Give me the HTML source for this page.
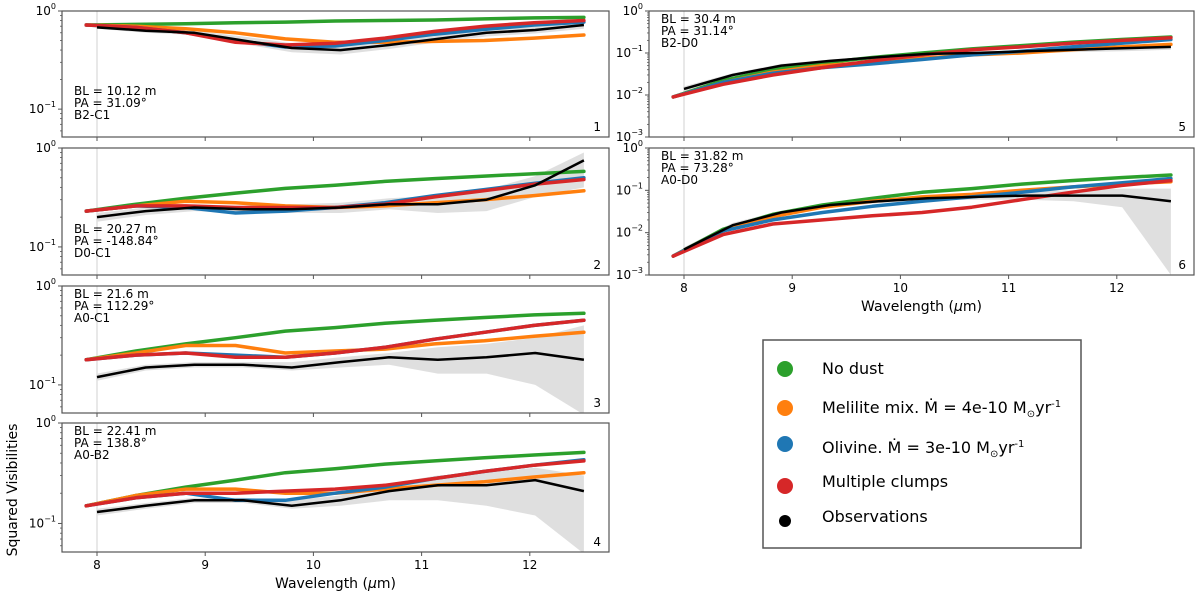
<!DOCTYPE html>
<html><head><meta charset="utf-8"><style>
html,body{margin:0;padding:0;background:#fff}
svg{display:block;font-family:"DejaVu Sans","Liberation Sans",sans-serif}
</style></head><body>
<svg id="fig" width="1200" height="594" viewBox="0 0 1200 594" xmlns="http://www.w3.org/2000/svg">
<g id="layer"></g>
<g>
<rect x="763" y="340" width="318" height="208" fill="#fff" stroke="#555" stroke-width="1.5"/>
<g><circle cx="785" cy="369" r="8" fill="#2ca02c"/><text x="822" y="374" font-size="16">No dust</text></g>
<g><circle cx="785" cy="408" r="8" fill="#ff7f0e"/><text x="822" y="413" font-size="16">Melilite mix. Ṁ = 4e-10 M<tspan font-size="10" dy="4">⊙</tspan><tspan dy="-4">yr</tspan><tspan font-size="10" dy="-6">-1</tspan></text></g>
<g><circle cx="785" cy="444" r="8" fill="#1f77b4"/><text x="822" y="453" font-size="16">Olivine. Ṁ = 3e-10 M<tspan font-size="10" dy="4">⊙</tspan><tspan dy="-4">yr</tspan><tspan font-size="10" dy="-6">-1</tspan></text></g>
<g><circle cx="785" cy="486" r="8" fill="#d62728"/><text x="822" y="487" font-size="16">Multiple clumps</text></g>
<g><circle cx="785" cy="521" r="6" fill="#000"/><text x="822" y="522" font-size="16">Observations</text></g>
</g>
<text transform="translate(17,490) rotate(-90)" text-anchor="middle" font-size="14">Squared Visibilities</text>
</svg>
<script>
const W=[7.9,8.36,8.82,9.28,9.74,10.2,10.66,11.12,11.58,12.04,12.5];
const WO=[8.0,8.45,8.9,9.35,9.8,10.25,10.7,11.15,11.6,12.05,12.5];
const p1Green=[0.72,0.73,0.74,0.76,0.77,0.79,0.8,0.81,0.83,0.85,0.86];
const p1Orange=[0.72,0.7,0.66,0.6,0.52,0.48,0.48,0.49,0.5,0.53,0.57];
const p1Blue=[0.72,0.68,0.6,0.5,0.43,0.44,0.5,0.58,0.65,0.72,0.77];
const p1Red=[0.72,0.68,0.6,0.48,0.45,0.47,0.53,0.62,0.7,0.76,0.8];
const p1Obs=[0.68,0.63,0.6,0.5,0.42,0.4,0.45,0.52,0.6,0.64,0.72];
const p1Hi=[0.7,0.66,0.63,0.55,0.47,0.45,0.5,0.57,0.65,0.7,0.78];
const p1Lo=[0.66,0.6,0.57,0.46,0.38,0.36,0.41,0.48,0.55,0.59,0.66];
const p2Green=[0.23,0.27,0.31,0.35,0.39,0.42,0.46,0.49,0.52,0.55,0.58];
const p2Orange=[0.23,0.26,0.29,0.28,0.26,0.25,0.26,0.28,0.3,0.33,0.37];
const p2Blue=[0.23,0.26,0.25,0.22,0.23,0.25,0.28,0.33,0.38,0.44,0.5];
const p2Red=[0.23,0.26,0.26,0.25,0.25,0.25,0.27,0.32,0.37,0.43,0.48];
const p2Obs=[0.2,0.23,0.25,0.24,0.24,0.25,0.27,0.27,0.3,0.42,0.75];
const p2Hi=[0.22,0.25,0.27,0.26,0.27,0.28,0.31,0.33,0.38,0.52,0.9];
const p2Lo=[0.18,0.21,0.23,0.22,0.22,0.22,0.24,0.22,0.23,0.32,0.4];
const p3Green=[0.18,0.22,0.26,0.3,0.35,0.38,0.42,0.45,0.48,0.51,0.53];
const p3Orange=[0.18,0.21,0.25,0.25,0.21,0.22,0.23,0.26,0.28,0.31,0.34];
const p3Blue=[0.18,0.2,0.21,0.2,0.19,0.21,0.24,0.29,0.34,0.4,0.45];
const p3Red=[0.18,0.2,0.21,0.19,0.19,0.21,0.24,0.29,0.34,0.4,0.45];
const p3Obs=[0.12,0.15,0.16,0.16,0.15,0.17,0.19,0.18,0.19,0.21,0.18];
const p3Hi=[0.13,0.16,0.17,0.17,0.17,0.19,0.21,0.24,0.26,0.3,0.4];
const p3Lo=[0.11,0.14,0.15,0.15,0.14,0.15,0.16,0.13,0.13,0.1,0.05];
const p4Green=[0.15,0.19,0.23,0.27,0.32,0.35,0.39,0.42,0.45,0.48,0.51];
const p4Orange=[0.15,0.19,0.22,0.22,0.2,0.2,0.22,0.24,0.26,0.29,0.32];
const p4Blue=[0.15,0.18,0.2,0.17,0.17,0.2,0.23,0.28,0.33,0.38,0.43];
const p4Red=[0.15,0.18,0.2,0.2,0.21,0.22,0.24,0.28,0.33,0.38,0.42];
const p4Obs=[0.13,0.15,0.17,0.17,0.15,0.17,0.21,0.24,0.24,0.27,0.21];
const p4Hi=[0.14,0.16,0.18,0.18,0.17,0.19,0.25,0.3,0.32,0.36,0.3];
const p4Lo=[0.12,0.14,0.16,0.16,0.14,0.15,0.17,0.17,0.15,0.12,0.05];
const p5Green=[0.009,0.022,0.04,0.058,0.078,0.1,0.125,0.15,0.18,0.21,0.24];
const p5Orange=[0.009,0.02,0.035,0.05,0.06,0.075,0.09,0.1,0.12,0.14,0.16];
const p5Blue=[0.009,0.02,0.033,0.045,0.055,0.07,0.09,0.11,0.14,0.17,0.21];
const p5Red=[0.009,0.018,0.03,0.045,0.065,0.09,0.12,0.14,0.17,0.2,0.23];
const p5Obs=[0.014,0.03,0.05,0.065,0.08,0.095,0.1,0.11,0.12,0.13,0.14];
const p5Hi=[0.016,0.033,0.055,0.07,0.085,0.1,0.11,0.12,0.135,0.15,0.16];
const p5Lo=[0.012,0.027,0.045,0.06,0.075,0.09,0.09,0.1,0.105,0.11,0.12];
const p6Green=[0.0028,0.012,0.027,0.045,0.065,0.09,0.11,0.14,0.17,0.2,0.23];
const p6Orange=[0.0028,0.011,0.024,0.04,0.055,0.07,0.08,0.1,0.12,0.14,0.16];
const p6Blue=[0.0028,0.011,0.02,0.03,0.042,0.055,0.07,0.09,0.12,0.15,0.19];
const p6Red=[0.0028,0.009,0.016,0.02,0.025,0.03,0.04,0.06,0.09,0.13,0.17];
const p6Obs=[0.004,0.015,0.03,0.045,0.055,0.065,0.07,0.075,0.075,0.075,0.055];
const p6Hi=[0.0045,0.017,0.033,0.05,0.06,0.072,0.08,0.095,0.1,0.11,0.11];
const p6Lo=[0.0035,0.013,0.027,0.04,0.05,0.058,0.06,0.06,0.055,0.04,0.001];
const xTicks=[8,9,10,11,12];
const labels=[["BL = 10.12 m","PA = 31.09°","B2-C1"],["BL = 20.27 m","PA = -148.84°","D0-C1"],["BL = 21.6 m","PA = 112.29°","A0-C1"],["BL = 22.41 m","PA = 138.8°","A0-B2"],["BL = 30.4 m","PA = 31.14°","B2-D0"],["BL = 31.82 m","PA = 73.28°","A0-D0"]];

const NS="http://www.w3.org/2000/svg";
const layer=document.getElementById('layer');
function mk(tag,attrs,parent){const e=document.createElementNS(NS,tag);for(const k in attrs)e.setAttribute(k,attrs[k]);(parent||layer).appendChild(e);return e;}
const panels=[
 {x0:62,x1:609,x8:97,top:11,h:126,ymin:0.052,ymax:1,d:[p1Green,p1Orange,p1Blue,p1Red,p1Obs,p1Hi,p1Lo],xl:false,lab:'bot'},
 {x0:62,x1:609,x8:97,top:148,h:127,ymin:0.052,ymax:1,d:[p2Green,p2Orange,p2Blue,p2Red,p2Obs,p2Hi,p2Lo],xl:false,lab:'bot'},
 {x0:62,x1:609,x8:97,top:286,h:127,ymin:0.052,ymax:1,d:[p3Green,p3Orange,p3Blue,p3Red,p3Obs,p3Hi,p3Lo],xl:false,lab:'top'},
 {x0:62,x1:609,x8:97,top:423,h:129,ymin:0.052,ymax:1,d:[p4Green,p4Orange,p4Blue,p4Red,p4Obs,p4Hi,p4Lo],xl:true,lab:'top'},
 {x0:649,x1:1194,x8:684,top:11,h:126,ymin:0.001,ymax:1,d:[p5Green,p5Orange,p5Blue,p5Red,p5Obs,p5Hi,p5Lo],xl:false,lab:'top'},
 {x0:649,x1:1194,x8:684,top:148,h:127,ymin:0.001,ymax:1,d:[p6Green,p6Orange,p6Blue,p6Red,p6Obs,p6Hi,p6Lo],xl:true,lab:'top'}
];
const colors=['#2ca02c','#ff7f0e','#1f77b4','#d62728'];
const names=['no-dust','melilite','olivine','multiple-clumps'];
panels.forEach((P,pi)=>{
 const g=mk('g',{});
 
 
 const sx=w=>P.x8+(w-8)*108.2;
 const L0=Math.log10(P.ymax),L1=Math.log10(P.ymin);
 const sy=v=>P.top+(L0-Math.log10(Math.max(v,P.ymin*0.5)))/(L0-L1)*P.h;
 const cid='clip'+pi;
 const cp=mk('clipPath',{id:cid},g);mk('rect',{x:P.x0,y:P.top,width:P.x1-P.x0,height:P.h},cp);
 const plot=mk('g',{'clip-path':'url(#'+cid+')'},g);
 const [gr,or,bl,rd,ob,hi,lo]=P.d;
 let pts=WO.map((w,i)=>sx(w).toFixed(1)+','+sy(hi[i]).toFixed(1));
 for(let i=WO.length-1;i>=0;i--)pts.push(sx(WO[i]).toFixed(1)+','+sy(lo[i]).toFixed(1));
 const band=mk('polygon',{points:pts.join(' '),fill:'#d9d9d9',opacity:'0.85'},plot);
 
 
 mk('line',{x1:sx(8),x2:sx(8),y1:P.top,y2:P.top+P.h,stroke:'#e0e0e0','stroke-width':1.5},plot);
 [gr,or,bl,rd].forEach((arr,k)=>{
  const s=mk('polyline',{points:W.map((w,i)=>sx(w).toFixed(1)+','+sy(arr[i]).toFixed(1)).join(' '),fill:'none',stroke:colors[k],'stroke-width':3.5,'stroke-linecap':'round','stroke-linejoin':'round'},plot);
  
  
 });
 const o=mk('polyline',{points:WO.map((w,i)=>sx(w).toFixed(1)+','+sy(ob[i]).toFixed(1)).join(' '),fill:'none',stroke:'#000','stroke-width':2.5,'stroke-linejoin':'round'},plot);
 
 
 mk('rect',{x:P.x0,y:P.top,width:P.x1-P.x0,height:P.h,fill:'none',stroke:'#555','stroke-width':1.2},g);
 xTicks.forEach(t=>{
  mk('line',{x1:sx(t),x2:sx(t),y1:P.top+P.h,y2:P.top+P.h+4,stroke:'#555','stroke-width':1},g);
  if(P.xl){const tl=mk('text',{x:sx(t),y:P.top+P.h+17,'text-anchor':'middle','font-size':12},g);tl.textContent=t;
   
   }
 });
 if(P.xl){const xt=mk('text',{x:(P.x0+P.x1)/2,y:P.top+P.h+36,'text-anchor':'middle','font-size':14},g);
  xt.innerHTML='Wavelength (<tspan font-style="italic">μ</tspan>m)';
  
  }
 for(let e=0;e>=-3;e--){
  const v=Math.pow(10,e);
  if(v>=P.ymin){
   const y=sy(v);
   mk('line',{x1:P.x0-4,x2:P.x0,y1:y,y2:y,stroke:'#555'},g);
   const tl=mk('text',{x:P.x0-6,y:y+4,'text-anchor':'end','font-size':12},g);
   tl.innerHTML='10<tspan font-size="8" dy="-6">'+(e===0?'0':'−'+(-e))+'</tspan>';
   
   
  }
  for(let m=2;m<=9;m++){const mv=m*v/10;if(mv>=P.ymin&&mv<P.ymax){const y=sy(mv);mk('line',{x1:P.x0-2,x2:P.x0,y1:y,y2:y,stroke:'#555','stroke-width':0.8},g);}}
 }
 const lb=labels[pi];
 const by=P.lab==='bot'? P.top+P.h-42 : P.top+12;
 const ann=mk('text',{x:P.x0+12,y:by,'font-size':12},g);
 
 
 lb.forEach((s,i)=>{const t=mk('tspan',{x:P.x0+12,y:by+i*12},ann);t.textContent=s;});
 const num=mk('text',{x:P.x1-8,y:P.top+P.h-6,'text-anchor':'end','font-size':12},g);
 num.textContent=pi+1;
 
 
});
</script>
</body></html>
